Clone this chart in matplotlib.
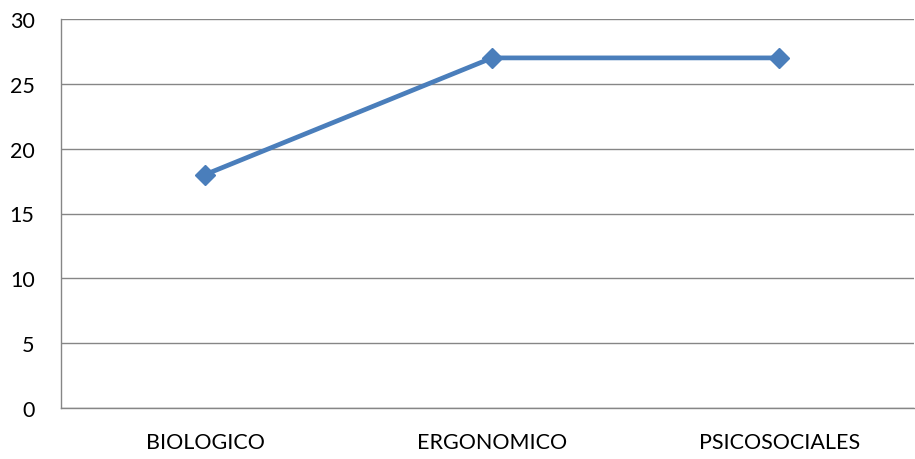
import matplotlib
matplotlib.use("Agg")
import matplotlib.pyplot as plt

categories = ["BIOLOGICO", "ERGONOMICO", "PSICOSOCIALES"]
values = [18, 27, 27]
yticks = [0, 5, 10, 15, 20, 25, 30]

plt.rcParams['font.family'] = ['Lato', 'DejaVu Sans']

fig = plt.figure(figsize=(9.15, 4.6), dpi=100)
ax = fig.add_axes([61/915, 1 - 409/460, (914-61)/915, (409-20)/460])

x = list(range(len(categories)))
ax.plot(x, values, color="#4A7EBB", linewidth=3.4, marker="D", markersize=10,
        markerfacecolor="#4A7EBB", markeredgecolor="#4A7EBB", zorder=3, clip_on=False)

ax.set_xlim(-0.502, 2.47)
ax.set_ylim(0, 30)
ax.set_yticks(yticks)
ax.set_yticklabels([str(v) for v in yticks], fontsize=15.5)
ax.set_xticks(x)
ax.set_xticklabels(categories, fontsize=15.5)
ax.yaxis.grid(True, color="#868686", linewidth=1.0)
ax.set_axisbelow(True)
for s in ["top", "right"]:
    ax.spines[s].set_visible(False)
for s in ["left", "bottom"]:
    ax.spines[s].set_color("#868686")
    ax.spines[s].set_linewidth(1.0)
ax.tick_params(axis="both", length=0)
ax.tick_params(axis="y", pad=19)
ax.tick_params(axis="x", pad=17)

fig.savefig("out.png", dpi=100)
